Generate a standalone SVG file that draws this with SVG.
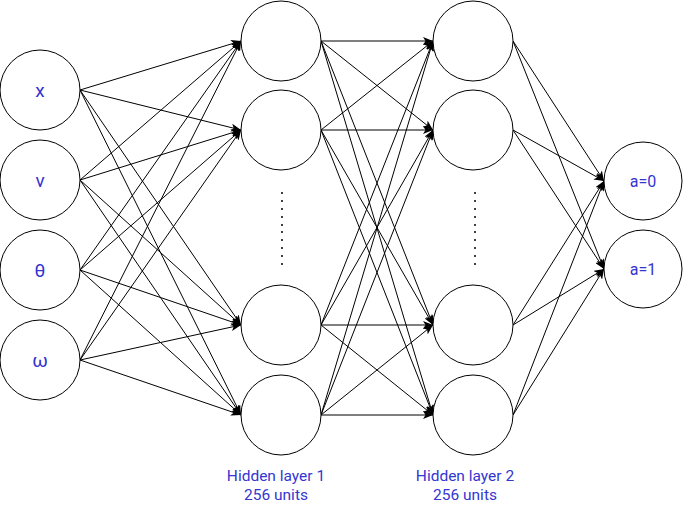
<svg xmlns="http://www.w3.org/2000/svg" width="684" height="505" viewBox="0 0 684 505">
<style>
.n{fill:#fff;stroke:#000;stroke-width:1}
.e{stroke:#000;stroke-width:1;fill:none;marker-end:url(#ah)}
.t{font-family:Roboto,"Liberation Sans",sans-serif;fill:#3535d0;text-anchor:middle}
.d{fill:#000}
</style>
<defs>
<marker id="ah" viewBox="0 0 10 8" refX="10" refY="4" markerWidth="10" markerHeight="8" orient="auto" markerUnits="userSpaceOnUse">
<path d="M0,0 L10,4 L0,8 L2.5,4 z" fill="#000"/>
</marker>
</defs>
<rect width="684" height="505" fill="#fff"/>
<g id="connectors">
<line class="e" x1="80" y1="90" x2="241" y2="41"/>
<line class="e" x1="80" y1="90" x2="241" y2="130"/>
<line class="e" x1="80" y1="90" x2="241" y2="325"/>
<line class="e" x1="80" y1="90" x2="241" y2="415"/>
<line class="e" x1="80" y1="180" x2="241" y2="41"/>
<line class="e" x1="80" y1="180" x2="241" y2="130"/>
<line class="e" x1="80" y1="180" x2="241" y2="325"/>
<line class="e" x1="80" y1="180" x2="241" y2="415"/>
<line class="e" x1="80" y1="270" x2="241" y2="41"/>
<line class="e" x1="80" y1="270" x2="241" y2="130"/>
<line class="e" x1="80" y1="270" x2="241" y2="325"/>
<line class="e" x1="80" y1="270" x2="241" y2="415"/>
<line class="e" x1="80" y1="360" x2="241" y2="41"/>
<line class="e" x1="80" y1="360" x2="241" y2="130"/>
<line class="e" x1="80" y1="360" x2="241" y2="325"/>
<line class="e" x1="80" y1="360" x2="241" y2="415"/>
<line class="e" x1="321" y1="41" x2="433" y2="41"/>
<line class="e" x1="321" y1="41" x2="433" y2="130"/>
<line class="e" x1="321" y1="41" x2="433" y2="325"/>
<line class="e" x1="321" y1="41" x2="433" y2="415"/>
<line class="e" x1="321" y1="130" x2="433" y2="41"/>
<line class="e" x1="321" y1="130" x2="433" y2="130"/>
<line class="e" x1="321" y1="130" x2="433" y2="325"/>
<line class="e" x1="321" y1="130" x2="433" y2="415"/>
<line class="e" x1="321" y1="325" x2="433" y2="41"/>
<line class="e" x1="321" y1="325" x2="433" y2="130"/>
<line class="e" x1="321" y1="325" x2="433" y2="325"/>
<line class="e" x1="321" y1="325" x2="433" y2="415"/>
<line class="e" x1="321" y1="415" x2="433" y2="41"/>
<line class="e" x1="321" y1="415" x2="433" y2="130"/>
<line class="e" x1="321" y1="415" x2="433" y2="325"/>
<line class="e" x1="321" y1="415" x2="433" y2="415"/>
<line class="e" x1="513" y1="41" x2="604" y2="181"/>
<line class="e" x1="513" y1="41" x2="604" y2="269"/>
<line class="e" x1="513" y1="130" x2="604" y2="181"/>
<line class="e" x1="513" y1="130" x2="604" y2="269"/>
<line class="e" x1="513" y1="325" x2="604" y2="181"/>
<line class="e" x1="513" y1="325" x2="604" y2="269"/>
<line class="e" x1="513" y1="415" x2="604" y2="181"/>
<line class="e" x1="513" y1="415" x2="604" y2="269"/>
</g>
<g id="in-x"><circle class="n" cx="40" cy="90" r="40"/><text class="t" x="40" y="97" font-size="19">x</text></g>
<g id="in-v"><circle class="n" cx="40" cy="180" r="40"/><text class="t" x="40" y="187" font-size="19">v</text></g>
<g id="in-theta"><circle class="n" cx="40" cy="270" r="40"/><text class="t" x="40" y="277" font-size="19">θ</text></g>
<g id="in-omega"><circle class="n" cx="40" cy="360" r="40"/><text class="t" x="40" y="367" font-size="19">ω</text></g>
<g id="h1-1"><circle class="n" cx="281" cy="41" r="40"/></g>
<g id="h1-2"><circle class="n" cx="281" cy="130" r="40"/></g>
<g id="h1-3"><circle class="n" cx="281" cy="325" r="40"/></g>
<g id="h1-4"><circle class="n" cx="281" cy="415" r="40"/></g>
<g id="h2-1"><circle class="n" cx="473" cy="41" r="40"/></g>
<g id="h2-2"><circle class="n" cx="473" cy="130" r="40"/></g>
<g id="h2-3"><circle class="n" cx="473" cy="325" r="40"/></g>
<g id="h2-4"><circle class="n" cx="473" cy="415" r="40"/></g>
<g id="out-0"><circle class="n" cx="643" cy="181" r="39"/><text class="t" x="643" y="187" font-size="16">a=0</text></g>
<g id="out-1"><circle class="n" cx="643" cy="269" r="39"/><text class="t" x="643" y="275" font-size="16">a=1</text></g>
<g id="dots1">
<circle class="d" cx="282" cy="193" r="1"/><circle class="d" cx="282" cy="201" r="1"/><circle class="d" cx="282" cy="209" r="1"/><circle class="d" cx="282" cy="217" r="1"/><circle class="d" cx="282" cy="225" r="1"/><circle class="d" cx="282" cy="232" r="1"/><circle class="d" cx="282" cy="240" r="1"/><circle class="d" cx="282" cy="248" r="1"/><circle class="d" cx="282" cy="256" r="1"/><circle class="d" cx="282" cy="264" r="1"/>
</g>
<g id="dots2">
<circle class="d" cx="475" cy="193" r="1"/><circle class="d" cx="475" cy="201" r="1"/><circle class="d" cx="475" cy="209" r="1"/><circle class="d" cx="475" cy="217" r="1"/><circle class="d" cx="475" cy="225" r="1"/><circle class="d" cx="475" cy="232" r="1"/><circle class="d" cx="475" cy="240" r="1"/><circle class="d" cx="475" cy="248" r="1"/><circle class="d" cx="475" cy="256" r="1"/><circle class="d" cx="475" cy="264" r="1"/>
</g>
<g id="label1"><text class="t" x="276" y="481" font-size="15.5">Hidden layer 1</text><text class="t" x="276" y="500" font-size="15.5">256 units</text></g>
<g id="label2"><text class="t" x="465" y="481" font-size="15.5">Hidden layer 2</text><text class="t" x="465" y="500" font-size="15.5">256 units</text></g>
</svg>
